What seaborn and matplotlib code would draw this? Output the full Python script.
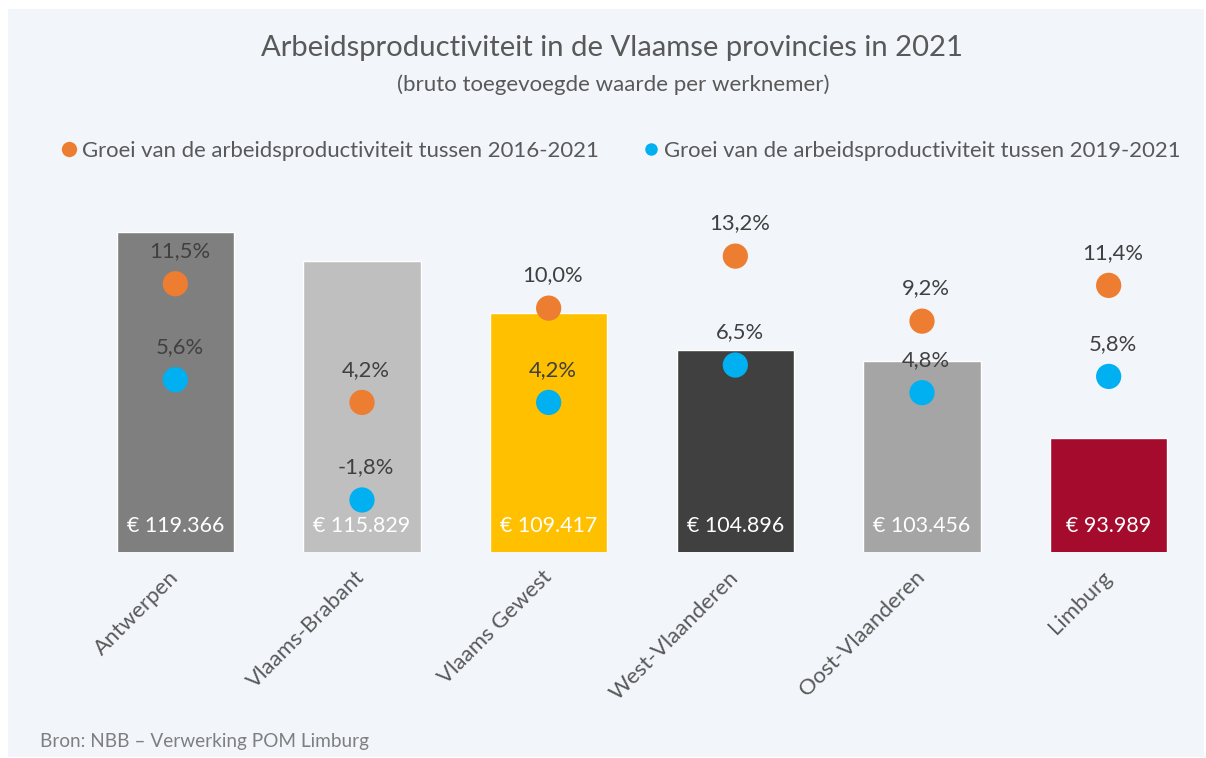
import matplotlib
matplotlib.use("Agg")
import matplotlib.pyplot as plt
import seaborn as sns
import pandas as pd
import numpy as np
from matplotlib.patches import Rectangle
from matplotlib.lines import Line2D

regions = ["Antwerpen", "Vlaams-Brabant", "Vlaams Gewest", "West-Vlaanderen", "Oost-Vlaanderen", "Limburg"]
productivity = [119366, 115829, 109417, 104896, 103456, 93989]
growth_2016_2021 = [11.5, 4.2, 10.0, 13.2, 9.2, 11.4]
growth_2019_2021 = [5.6, -1.8, 4.2, 6.5, 4.8, 5.8]
series_labels = ["Groei van de arbeidsproductiviteit tussen 2016-2021",
                 "Groei van de arbeidsproductiviteit tussen 2019-2021"]
bar_colors = ["#7F7F7F", "#BFBFBF", "#FFC000", "#404040", "#A5A5A5", "#A50B2D"]
dot_colors = ["#ED7D31", "#00B0F0"]
title = "Arbeidsproductiviteit in de Vlaamse provincies in 2021"
subtitle = "(bruto toegevoegde waarde per werknemer)"
source = "Bron: NBB \u2013 Verwerking POM Limburg"

sns.set_theme(style="white")
plt.rcParams['font.family'] = ['Lato', 'DejaVu Sans']

W, H = 1206, 758
TXT = "#595959"
fig = plt.figure(figsize=(W / 100, H / 100), dpi=100, facecolor="white")
fig.add_artist(Rectangle((8 / W, 1 - 757 / H), (1204 - 8) / W, (757 - 9) / H,
                         transform=fig.transFigure, facecolor="#F2F5FA",
                         edgecolor="none", zorder=-5))

top_px, bot_px = 186.2, 552
ax = fig.add_axes([82 / W, 1 - bot_px / H, (1202 - 82) / W, (bot_px - top_px) / H])
ax.set_facecolor("none")

bars = pd.DataFrame({"region": regions, "value": productivity})
sns.barplot(data=bars, x="region", y="value", hue="region", palette=bar_colors,
            width=0.63, saturation=1, legend=False, ax=ax)
ax.set_ylim(80000, 125000)
ax.set_xlim(-0.5, len(regions) - 0.5)
ax.set_xlabel("")
ax.set_ylabel("")
ax.set_yticks([])
for s in ax.spines.values():
    s.set_visible(False)
ax.set_xticks(range(len(regions)))
ax.set_xticklabels(regions, rotation=45, ha="right", va="center",
                   rotation_mode="anchor", fontsize=16, color=TXT)
ax.tick_params(axis="x", length=0, pad=16)

for i, v in enumerate(productivity):
    ax.annotate(f"\u20ac {v:,}".replace(",", "."), (i, 80000), xytext=(0, 18.7),
                textcoords="offset points", ha="center", va="center",
                color="white", fontsize=15.4)

ax2 = ax.twinx()
ax2.set_facecolor("none")
pos = np.arange(len(regions))
dots = pd.DataFrame({
    "pos": np.concatenate([pos, pos]),
    "growth": growth_2016_2021 + growth_2019_2021,
    "series": [series_labels[0]] * len(regions) + [series_labels[1]] * len(regions),
})
sns.scatterplot(data=dots, x="pos", y="growth", hue="series", palette=dot_colors,
                s=330, edgecolor="none", linewidth=0, legend=False, ax=ax2, zorder=3)
ax2.set_ylim(-5, 17.5)
ax2.set_xlim(-0.5, len(regions) - 0.5)
ax2.set_yticks([])
ax2.set_xlabel("")
ax2.set_ylabel("")
for s in ax2.spines.values():
    s.set_visible(False)

for series in (growth_2016_2021, growth_2019_2021):
    for i, v in enumerate(series):
        ax2.annotate(f"{v:.1f}".replace(".", ",") + "%", (i, v), xytext=(3, 23.5),
                     textcoords="offset points", ha="center", va="center",
                     color="#404040", fontsize=15.8)

handles = [Line2D([], [], marker="o", linestyle="none", markersize=11,
                  markerfacecolor=dot_colors[0], markeredgewidth=0),
           Line2D([], [], marker="o", linestyle="none", markersize=9,
                  markerfacecolor=dot_colors[1], markeredgewidth=0)]
fig.legend(handles, series_labels, loc="center left", bbox_to_anchor=(58 / W, 1 - 151 / H),
           ncol=2, frameon=False, fontsize=15.9, labelcolor=TXT, handletextpad=0.1,
           columnspacing=1.85, handlelength=1.0, borderaxespad=0, borderpad=0)

fig.text(612 / W, 1 - 48 / H, title, ha="center", va="center", fontsize=21.1, color=TXT)
fig.text(613 / W, 1 - 85 / H, subtitle, ha="center", va="center", fontsize=16, color=TXT)
fig.text(40 / W, 1 - 742 / H, source, ha="left", va="center", fontsize=13.7, color="#7F7F7F")

fig.savefig("out.png", dpi=100, facecolor="white")
